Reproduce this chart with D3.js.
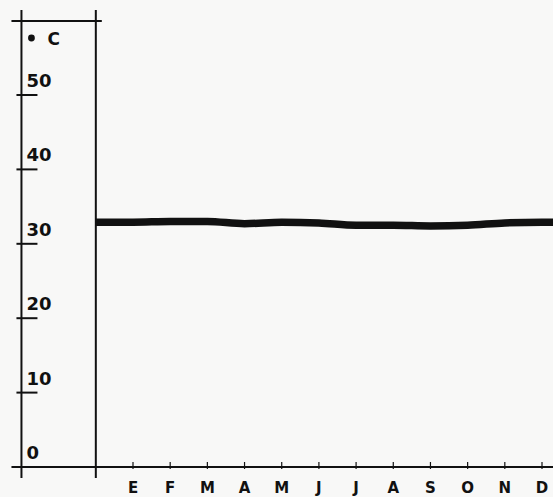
<!DOCTYPE html>
<html>
<head>
<meta charset="utf-8">
<script src="https://cdn.jsdelivr.net/npm/d3@7"></script>
<style>
  html, body { margin: 0; padding: 0; background: #f8f8f7; }
  svg { display: block; }
  text { font-family: "DejaVu Sans", sans-serif; font-weight: bold; fill: #111; }
</style>
</head>
<body>
<main></main>
<script>
// months (spanish initials) and mean monthly temperature, deg C
var months = ["E", "F", "M", "A", "M", "J", "J", "A", "S", "O", "N", "D"];
var temps = [32.9, 33.0, 33.0, 32.7, 32.9, 32.8, 32.5, 32.5, 32.4, 32.5, 32.8, 32.9];
var yTicks = [0, 10, 20, 30, 40, 50];
var unitLabel = "C";

var width = 553, height = 497;

var svg = d3.select("main")
    .append("svg")
    .attr("width", width)
    .attr("height", height);

// month index: E = 1 ... D = 12, frame line at 0, temperature axis at -2
var x = d3.scaleLinear().domain([1, 12]).range([133, 542]);
var y = d3.scaleLinear().domain([0, 50]).range([467, 95]);

var ink = "#111";
var frameTop = 21;

// frame lines
svg.append("line")
    .attr("x1", x(-2)).attr("x2", x(-2))
    .attr("y1", 10).attr("y2", y(0) + 11)
    .attr("stroke", ink).attr("stroke-width", 2);

svg.append("line")
    .attr("x1", x(0)).attr("x2", x(0))
    .attr("y1", 10).attr("y2", y(0) + 11)
    .attr("stroke", ink).attr("stroke-width", 2);

svg.append("line")
    .attr("x1", x(-2) - 10).attr("x2", x(0) + 6)
    .attr("y1", frameTop).attr("y2", frameTop)
    .attr("stroke", ink).attr("stroke-width", 2);

svg.append("line")
    .attr("x1", x(-2) - 10).attr("x2", width)
    .attr("y1", y(0)).attr("y2", y(0))
    .attr("stroke", ink).attr("stroke-width", 2.2);

// temperature ticks and labels
var yAxis = svg.append("g").attr("id", "y-axis");

yAxis.selectAll("line")
    .data(yTicks.filter(function (d) { return d > 0; }))
    .enter()
    .append("line")
    .attr("x1", x(-2) - 5).attr("x2", x(-2) + 16)
    .attr("y1", function (d) { return y(d); })
    .attr("y2", function (d) { return y(d); })
    .attr("stroke", ink).attr("stroke-width", 2);

yAxis.selectAll("text")
    .data(yTicks)
    .enter()
    .append("text")
    .attr("x", x(-2) + 5)
    .attr("y", function (d) { return y(d) - 8; })
    .attr("font-size", 18)
    .text(function (d) { return d; });

svg.append("circle")
    .attr("cx", x(-2) + 10).attr("cy", 38).attr("r", 3.4)
    .attr("fill", ink);

svg.append("text")
    .attr("x", x(-2) + 26).attr("y", 45)
    .attr("font-size", 17)
    .text(unitLabel);

// month ticks and labels
var xAxis = svg.append("g").attr("id", "x-axis");

xAxis.selectAll("line")
    .data(months)
    .enter()
    .append("line")
    .attr("x1", function (d, i) { return x(i + 1); })
    .attr("x2", function (d, i) { return x(i + 1); })
    .attr("y1", y(0) - 5).attr("y2", y(0) + 2)
    .attr("stroke", ink).attr("stroke-width", 1.2);

xAxis.selectAll("text")
    .data(months)
    .enter()
    .append("text")
    .attr("x", function (d, i) { return x(i + 1); })
    .attr("y", y(0) + 26)
    .attr("text-anchor", "middle")
    .attr("font-size", 15)
    .text(function (d) { return d; });

// temperature line, carried flat from the frame to the right edge
var pts = temps.map(function (d, i) { return [i + 1, d]; });
pts.unshift([0, temps[0]]);
pts.push([x.invert(width), temps[temps.length - 1]]);

var line = d3.line()
    .x(function (d) { return x(d[0]); })
    .y(function (d) { return y(d[1]); })
    .curve(d3.curveMonotoneX);

svg.append("path")
    .datum(pts)
    .attr("d", line)
    .attr("fill", "none")
    .attr("stroke", ink)
    .attr("stroke-width", 7.5);
</script>
</body>
</html>
